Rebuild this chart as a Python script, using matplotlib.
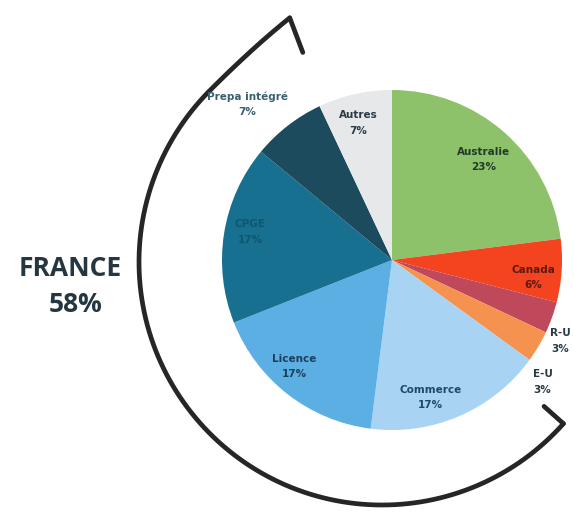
import numpy as np
import matplotlib
matplotlib.use("Agg")
import matplotlib.pyplot as plt

# ---- data ----
categories = ["Australie", "Canada", "R-U", "E-U", "Commerce", "Licence", "CPGE", "Prepa intégré", "Autres"]
values = [23, 6, 3, 3, 17, 17, 17, 7, 7]
colors = ["#8dc26a", "#f3431f", "#c0485b", "#f6924f", "#a8d3f2", "#5bafe3", "#17708f", "#1b4b5d", "#e7e8ea"]
label_text_colors = ["#1f3a2a", "#5a1a10", "#2a3a44", "#2a3a44", "#1f4a66", "#1c3f5e", "#0f5670", "#3a6070", "#2a3a44"]
# label placement (radial fraction of radius, angular tweak in degrees, clockwise positive)
label_radius = [0.80, 0.84, 1.10, 1.14, 0.84, 0.85, 0.85, 1.25, 0.83]
label_angle_tweak = [0.9, 3.4, 5.9, 8.4, 7.9, 4.7, 2.2, -5.2, -1.4]
group_label = "FRANCE"
group_value = "58%"

W, H = 574, 512
fig = plt.figure(figsize=(W / 100, H / 100), dpi=100)
ax = fig.add_axes([0, 0, 1, 1])

cx, cy, R = 392, 260, 170
wedges, _ = ax.pie(values, colors=colors, startangle=-90, counterclock=True,
                   center=(cx, cy), radius=R, wedgeprops=dict(linewidth=0))

for w, cat, v, rf, tw, tc in zip(wedges, categories, values, label_radius, label_angle_tweak, label_text_colors):
    mid = np.deg2rad((w.theta1 + w.theta2) / 2 + tw)
    x = cx + rf * R * np.cos(mid)
    y = cy + rf * R * np.sin(mid)
    ax.text(x, y, f"{cat}\n{v}%", ha="center", va="center", fontsize=7.5, fontweight="bold",
            color=tc, linespacing=1.65, family="DejaVu Sans")

# ---- hand-drawn bracket ----
bx, by, br = 382, 262, 243
th = np.linspace(41.7, 249.3, 400)
rr = br + np.where(th > 225, 18 * ((th - 225) / 24.3) ** 2, 0)
xs = bx + rr * np.cos(np.deg2rad(th))
ys = by + rr * np.sin(np.deg2rad(th))
ax.plot(xs, ys, color="#262626", lw=3.4, solid_capstyle="round", solid_joinstyle="round")
# inward ticks at both ends
for i, L in ((-1, 37), (0, 26)):
    ex, ey = xs[i], ys[i]
    d = np.array([bx - ex, by - ey])
    d = d / np.linalg.norm(d)
    ax.plot([ex, ex + L * d[0]], [ey, ey + L * d[1]], color="#262626", lw=3.4,
            solid_capstyle="round")

ax.text(70, 268, group_label, ha="center", va="center", fontsize=19, fontweight="bold",
        color="#243640", family="Open Sans")
ax.text(76, 305, group_value, ha="center", va="center", fontsize=19, fontweight="bold",
        color="#243640", family="Open Sans")

ax.set_xlim(0, W)
ax.set_ylim(H, 0)
ax.set_aspect("equal")
ax.axis("off")
fig.savefig("out.png", dpi=100)
